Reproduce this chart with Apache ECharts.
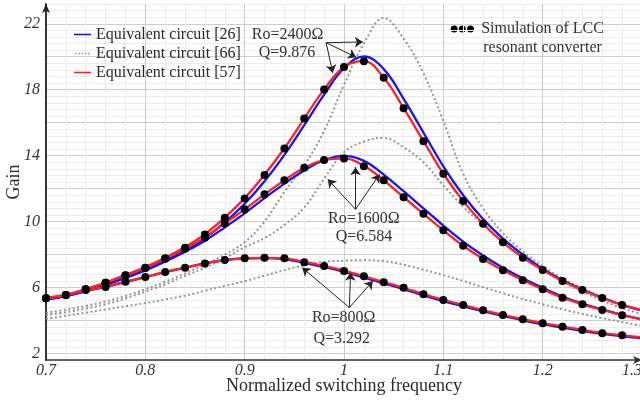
<!DOCTYPE html>
<html>
<head>
<meta charset="utf-8">
<script src="https://cdn.jsdelivr.net/npm/echarts@6/dist/echarts.min.js"></script>
<style>html,body{margin:0;padding:0;background:#fff}#chart{width:640px;height:401px}</style>
</head>
<body>
<div id="chart"></div>
<script>
// normalized switching frequency
var freq = [0.70,0.72,0.74,0.76,0.78,0.80,0.82,0.84,0.86,0.88,0.90,0.92,0.94,0.96,0.98,1.00,1.02,1.04,1.06,1.08,1.10,1.12,1.14,1.16,1.18,1.20,1.22,1.24,1.26,1.28,1.30];
var simFreq = [0.70,0.72,0.74,0.76,0.78,0.80,0.82,0.84,0.86,0.88,0.90,0.92,0.94,0.96,0.98,1.00,1.02,1.04,1.06,1.08,1.10,1.12,1.14,1.16,1.18,1.20,1.22,1.24,1.26,1.28];

// Ro=2400 (Q=9.876)
var eq26_2400 = [5.28,5.48,5.80,6.18,6.62,7.08,7.62,8.25,9.00,9.95,11.08,12.45,14.05,15.85,17.70,19.30,20.02,19.25,17.45,15.40,13.35,11.60,10.15,8.97,8.00,7.14,6.45,5.88,5.38,4.95,4.60];
var eq66_2400 = [4.47,4.65,4.88,5.15,5.48,5.89,6.35,6.85,7.40,8.00,8.75,10.00,11.80,13.40,15.50,18.30,20.80,22.35,21.10,19.00,16.10,12.90,10.80,9.30,8.20,7.30,6.55,5.95,5.42,4.98,4.60];
var eq57_2400 = [5.35,5.56,5.90,6.30,6.76,7.24,7.80,8.46,9.24,10.24,11.42,12.84,14.45,16.25,18.02,19.38,19.73,18.72,16.88,14.88,12.90,11.24,9.87,8.74,7.81,7.06,6.39,5.85,5.36,4.94,4.62];
var sim_2400 = [5.35,5.55,5.89,6.29,6.74,7.20,7.77,8.41,9.22,10.23,11.40,12.83,14.44,16.25,18.01,19.38,19.73,18.72,16.87,14.88,12.90,11.24,9.87,8.74,7.81,7.06,6.39,5.85,5.36,4.94];

// Ro=1600 (Q=6.584)
var eq26_1600 = [5.28,5.47,5.78,6.15,6.58,7.03,7.57,8.17,8.84,9.65,10.50,11.42,12.30,13.10,13.72,13.98,13.68,12.85,11.84,10.80,9.76,8.78,7.94,7.20,6.56,5.98,5.45,5.02,4.67,4.34,4.06];
var eq66_1600 = [4.33,4.50,4.72,4.98,5.33,5.75,6.20,6.70,7.20,7.77,8.45,9.00,9.80,10.85,12.60,14.20,14.85,15.08,14.50,13.60,12.20,10.90,9.80,8.80,7.90,7.10,6.35,5.75,5.20,4.75,4.38];
var eq57_1600 = [5.35,5.55,5.88,6.27,6.72,7.18,7.74,8.36,9.04,9.89,10.74,11.65,12.50,13.26,13.73,13.83,13.38,12.50,11.48,10.47,9.47,8.53,7.73,7.04,6.44,5.89,5.38,4.98,4.64,4.32,4.06];
var sim_1600 = [5.35,5.55,5.89,6.29,6.72,7.18,7.74,8.35,9.02,9.89,10.74,11.65,12.50,13.26,13.73,13.83,13.36,12.50,11.48,10.47,9.47,8.53,7.73,7.04,6.44,5.89,5.38,4.98,4.64,4.32];

// Ro=800 (Q=3.292)
var eq26_800 = [5.30,5.50,5.78,6.03,6.33,6.63,6.93,7.20,7.46,7.66,7.76,7.78,7.72,7.50,7.24,6.95,6.60,6.25,5.90,5.52,5.17,4.86,4.56,4.27,4.01,3.77,3.56,3.36,3.18,3.04,2.92];
var eq66_800 = [4.10,4.28,4.47,4.67,4.86,5.05,5.27,5.50,5.80,6.10,6.38,6.72,7.05,7.35,7.55,7.63,7.66,7.60,7.38,7.08,6.75,6.40,6.02,5.65,5.30,4.98,4.68,4.40,4.14,3.90,3.67];
var eq57_800 = [5.33,5.54,5.82,6.05,6.35,6.64,6.94,7.20,7.46,7.66,7.77,7.80,7.76,7.55,7.30,7.02,6.68,6.33,5.98,5.60,5.25,4.94,4.63,4.34,4.08,3.84,3.63,3.43,3.24,3.10,2.98];
var sim_800 = [5.34,5.55,5.85,6.03,6.35,6.64,6.94,7.20,7.46,7.67,7.77,7.81,7.77,7.53,7.30,7.00,6.68,6.32,5.99,5.59,5.24,4.94,4.62,4.33,4.07,3.83,3.62,3.42,3.22,3.10];

var seriesNames = ['Equivalent circuit [26]', 'Equivalent circuit [66]', 'Equivalent circuit [57]'];

// annotation arrows (data coords): [from, to]
var arrows = [
    [[0.982, 20.85], [1.019, 20.9]],
    [[0.982, 20.85], [1.0123, 19.97]],
    [[0.982, 20.85], [0.9887, 19.02]],
    [[1.0116, 10.74], [0.9837, 12.56]],
    [[1.0116, 10.74], [1.0116, 13.3]],
    [[1.0116, 10.74], [1.0357, 12.86]],
    [[1.0054, 4.78], [0.958, 7.2]],
    [[1.0054, 4.78], [1.0066, 6.9]],
    [[1.0054, 4.78], [1.029, 6.39]]
];

var FONT = 'Liberation Serif';
var BLUE = '#1414f5', RED = '#ff2020', GRAY = '#969696';

function pairs(xs, ys) {
    return ys.map(function (y, i) { return [xs[i], y]; });
}

var myChart = echarts.init(document.getElementById('chart'));

var series = [];
[eq66_2400, eq66_1600, eq66_800].forEach(function (d) {
    series.push({
        name: seriesNames[1], type: 'line', data: pairs(freq, d), symbol: 'none', smooth: 0.4,
        lineStyle: {color: GRAY, width: 2, type: [2, 2.5]}, itemStyle: {color: GRAY}, z: 2
    });
});
[eq26_2400, eq26_1600, eq26_800].forEach(function (d) {
    series.push({
        name: seriesNames[0], type: 'line', data: pairs(freq, d), symbol: 'none', smooth: 0.4,
        lineStyle: {color: BLUE, width: 2.3}, itemStyle: {color: BLUE}, z: 3
    });
});
[eq57_2400, eq57_1600, eq57_800].forEach(function (d) {
    series.push({
        name: seriesNames[2], type: 'line', data: pairs(freq, d), symbol: 'none', smooth: 0.4,
        lineStyle: {color: RED, width: 2.3}, itemStyle: {color: RED}, z: 4
    });
});
[sim_2400, sim_1600, sim_800].forEach(function (d) {
    series.push({
        name: 'Simulation of LCC resonant converter', type: 'scatter', data: pairs(simFreq, d),
        symbolSize: 8, itemStyle: {color: '#000', opacity: 1}, z: 5
    });
});
series.push({
    type: 'scatter', data: [], z: 6,
    markLine: {
        silent: true, symbol: ['none', 'arrow'], symbolSize: 8, animation: false,
        label: {show: false},
        lineStyle: {color: '#222', width: 1, type: 'solid'},
        data: arrows.map(function (a) { return [{coord: a[0]}, {coord: a[1]}]; })
    }
});

function note(text, x, y) {
    return {
        type: 'text', x: x, y: y, z: 10,
        style: {text: text, fontFamily: FONT, fontSize: 16, fill: '#333', align: 'center', verticalAlign: 'middle'}
    };
}

var dotted = 'path://M0,0h2v2h-2zM4,0h2v2h-2zM8,0h2v2h-2zM12,0h2v2h-2zM16,0h2v2h-2z';

var option = {
    animation: false,
    grid: {left: 46, right: -2, top: 4, bottom: 41, containLabel: false, outerBoundsMode: 'none'},
    legend: {
        data: [
            {name: seriesNames[0], icon: 'rect'},
            {name: seriesNames[1], icon: dotted},
            {name: seriesNames[2], icon: 'rect'}
        ],
        orient: 'vertical', left: 74, top: 26, padding: 0,
        itemWidth: 17, itemHeight: 1.6, itemGap: 2,
        textStyle: {fontFamily: FONT, fontSize: 16, color: '#2a2a2a', lineHeight: 17}
    },
    xAxis: {
        type: 'value', min: 0.7, max: 1.3, interval: 0.02,
        name: 'Normalized switching frequency', nameLocation: 'middle', nameGap: 17, nameMoveOverlap: false,
        nameTextStyle: {fontFamily: FONT, fontSize: 18, color: '#2a2a2a'},
        axisLine: {lineStyle: {color: '#333', width: 1.5}, symbol: ['none', 'arrow'], symbolSize: [6, 9]},
        axisTick: {show: false},
        axisLabel: {
            fontFamily: FONT, fontSize: 16, fontStyle: 'italic', color: '#333', margin: 3,
            alignMaxLabel: 'right',
            formatter: function (v) {
                var t = v * 10;
                if (Math.abs(t - Math.round(t)) > 1e-6) return '';
                return Math.abs(v - 1) < 1e-6 ? '1' : v.toFixed(1);
            }
        },
        splitLine: {show: true, lineStyle: {color: ['#cdcdcd', '#ececec', '#ececec', '#ececec', '#ececec'], width: 1}}
    },
    yAxis: {
        type: 'value', min: 1.6, max: 23.2, interval: 0.4,
        name: 'Gain', nameLocation: 'middle', nameGap: 23, nameMoveOverlap: false,
        nameTextStyle: {fontFamily: FONT, fontSize: 18, color: '#2a2a2a'},
        axisLine: {show: true, lineStyle: {color: '#222', width: 1.8}, symbol: ['none', 'arrow'], symbolSize: [6, 9]},
        axisTick: {show: false},
        axisLabel: {
            fontFamily: FONT, fontSize: 16, fontStyle: 'italic', color: '#333', margin: 6,
            padding: [5, 0, 0, 0],
            formatter: function (v) {
                var t = (v - 2) / 4;
                if (Math.abs(t - Math.round(t)) > 1e-6) return '';
                return String(Math.round(v));
            }
        },
        splitLine: {show: true, lineStyle: {color: ['#ececec', '#cdcdcd', '#ececec', '#ececec', '#ececec'], width: 1}}
    },
    graphic: [
        {type: 'circle', shape: {cx: 454.2, cy: 29, r: 3.5}, style: {fill: '#000'}},
        {type: 'circle', shape: {cx: 462.3, cy: 29, r: 3.5}, style: {fill: '#000'}},
        {type: 'circle', shape: {cx: 470.5, cy: 29, r: 3.5}, style: {fill: '#000'}},
        note('Simulation of LCC', 542.5, 29),
        note('resonant converter', 542.5, 48),
        note('Ro=2400Ω', 287.5, 35),
        note('Q=9.876', 287, 53),
        note('Ro=1600Ω', 363.8, 218.3),
        note('Q=6.584', 364, 236.7),
        note('Ro=800Ω', 343.7, 318),
        note('Q=3.292', 341.7, 339)
    ],
    series: series
};

myChart.setOption(option);
</script>
</body>
</html>
